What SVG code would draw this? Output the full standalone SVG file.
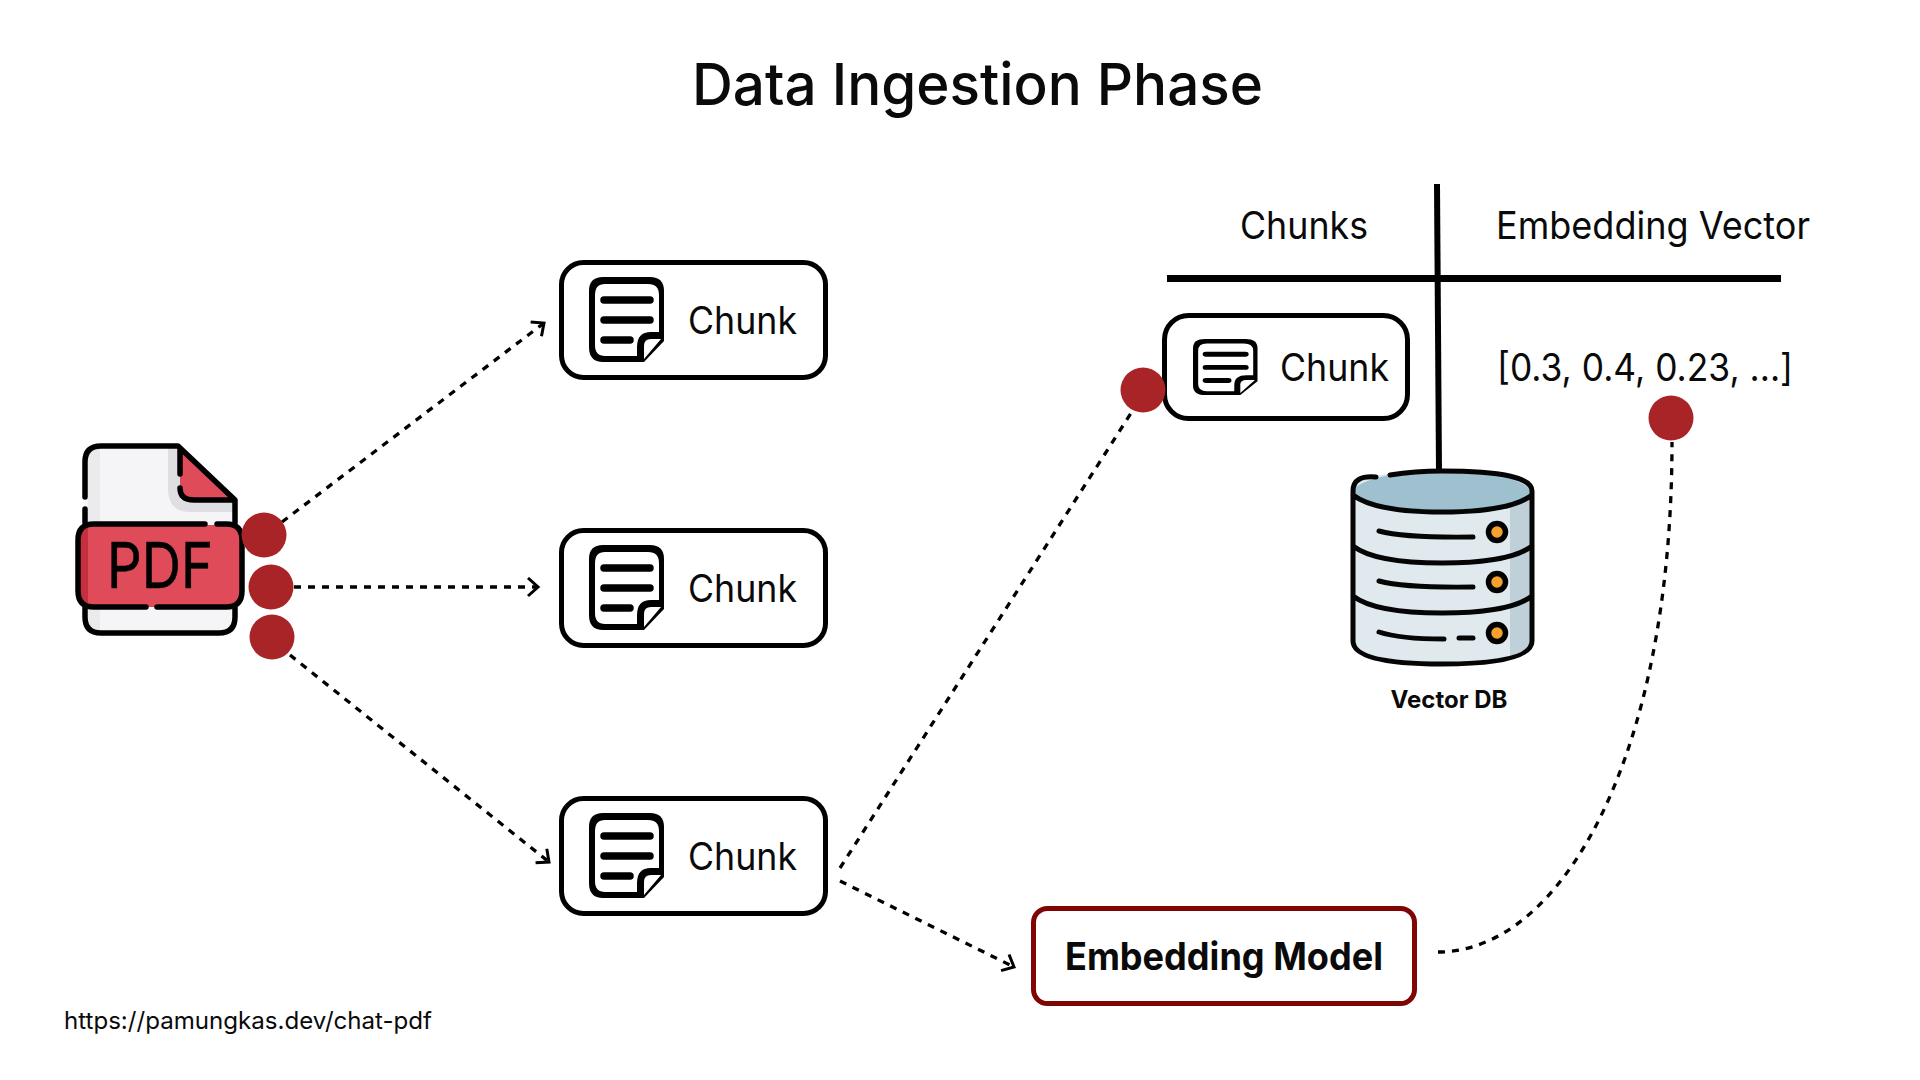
<svg xmlns="http://www.w3.org/2000/svg" width="1920" height="1080" viewBox="0 0 1920 1080">
<style>
text{font-family:Inter,"Liberation Sans",sans-serif;fill:#0a0a0a}
.lbl{font-size:38px}
.box{fill:#fff;stroke:#000;stroke-width:5}
.dash{fill:none;stroke:#000;stroke-width:3.300;stroke-dasharray:7 7}
.dot{fill:#a92427}
.ol{fill:none;stroke:#000;stroke-width:5.500;stroke-linecap:round;stroke-linejoin:round}
.dbl{fill:none;stroke:#050505;stroke-width:5;stroke-linecap:round}
</style>
<defs>
<marker id="arr" markerUnits="userSpaceOnUse" markerWidth="24" markerHeight="24" refX="15" refY="10" orient="auto">
<path d="M5 1 L15 10 L5 19" fill="none" stroke="#000" stroke-width="3"/>
</marker>
<g id="note">
<path d="M14 0 H61 Q75 0 75 14 V64 L55 85 H14 Q0 85 0 70 V14 Q0 0 14 0Z" fill="#000"/>
<path d="M16 7 H59 Q70 7 70 18 V55 H62 Q48 55 48 70 V79 H16 Q6 79 6 68 V18 Q6 7 16 7Z" fill="#fff"/>
<path d="M62 62 H72 L55 82 V69 Q55 62 62 62Z" fill="#fff"/>
<path d="M15 23 H61 M15 43 H61 M15 63 H41" fill="none" stroke="#000" stroke-width="7.500" stroke-linecap="round"/>
</g>
</defs>
<rect width="1920" height="1080" fill="#fff"/>
<text id="title" x="692" y="105" font-size="58" font-weight="500" textLength="571" lengthAdjust="spacingAndGlyphs">Data Ingestion Phase</text>
<g id="connectors">
<path class="dash" marker-end="url(#arr)" d="M282 522 L544 323"/>
<path class="dash" marker-end="url(#arr)" d="M294 587 L538 587"/>
<path class="dash" marker-end="url(#arr)" d="M290 655 L549 862"/>
<path class="dash" d="M840 868 L1133 410"/>
<path class="dash" marker-end="url(#arr)" d="M840 881 L1014 967"/>
<path class="dash" d="M1438 952 C1560 952 1672 760 1672 442"/>
</g>
<g id="table">
<path d="M1437 184 L1439 472" stroke="#000" stroke-width="6" fill="none"/>
<path d="M1167 278.500 H1781" stroke="#000" stroke-width="7" fill="none"/>
<text class="lbl" x="1240" y="239" textLength="128" lengthAdjust="spacingAndGlyphs">Chunks</text>
<text class="lbl" x="1496" y="239" textLength="314" lengthAdjust="spacingAndGlyphs">Embedding Vector</text>
<text class="lbl" x="1497" y="381" textLength="296" lengthAdjust="spacingAndGlyphs">[0.3, 0.4, 0.23, ...]</text>
</g>
<g id="pdf">
<path d="M101 446 H178 L235 500 V617 Q235 633 219 633 H101 Q85 633 85 617 V462 Q85 446 101 446Z" fill="#f5f4f6"/>
<path d="M100 448 H88 V630 H100Z" fill="#ebebee"/>
<path d="M168 448 H180 V500 H235 V512 H190 Q168 512 168 488Z" fill="#dfdfe3"/>
<path d="M180 448 L233 500 H194 Q180 500 180 486Z" fill="#e04b5a"/>
<rect x="77" y="525" width="165" height="82" rx="16" fill="#e04b5a"/>
<path d="M88 525 Q80 527 78 540 V592 Q80 605 88 607 Z" fill="#c5303f"/>
<path class="ol" d="M85 497 V462 Q85 446 101 446 H178 L235 500 V523 M180 450 V474 M180 488 Q180 500 194 500 H233 M85 509 V523 M85 608 V617 Q85 633 101 633 H219 Q235 633 235 617 V608"/>
<path class="ol" d="M217 524 H226 Q242 524 242 540 V591 Q242 607 226 607 H157 M146 607 H94 Q78 607 78 591 V540 Q78 524 94 524 H205"/>
<text x="107" y="588" font-size="63" textLength="106" lengthAdjust="spacingAndGlyphs" style="fill:#000" stroke="#000" stroke-width="0.6">PDF</text>
<circle class="dot" cx="264" cy="535" r="22.500"/>
<circle class="dot" cx="271" cy="587" r="22.500"/>
<circle class="dot" cx="272" cy="637" r="22.500"/>
</g>
<g id="chunk1"><rect class="box" x="561.500" y="262.500" width="264" height="115" rx="22"/><use href="#note" transform="translate(589 277)"/><text class="lbl" x="688" y="334" textLength="109" lengthAdjust="spacingAndGlyphs">Chunk</text></g>
<g id="chunk2"><rect class="box" x="561.500" y="530.500" width="264" height="115" rx="22"/><use href="#note" transform="translate(589 545)"/><text class="lbl" x="688" y="602" textLength="109" lengthAdjust="spacingAndGlyphs">Chunk</text></g>
<g id="chunk3"><rect class="box" x="561.500" y="798.500" width="264" height="115" rx="22"/><use href="#note" transform="translate(589 813)"/><text class="lbl" x="688" y="870" textLength="109" lengthAdjust="spacingAndGlyphs">Chunk</text></g>
<g id="chunk4"><rect class="box" x="1164.500" y="315.500" width="243" height="103" rx="24"/><use href="#note" transform="translate(1193 339) scale(.86 .66)"/><text class="lbl" x="1280" y="381" textLength="109" lengthAdjust="spacingAndGlyphs">Chunk</text>
<circle class="dot" cx="1143" cy="390" r="22.500"/></g>
<circle id="vector-dot" class="dot" cx="1671" cy="418" r="22.500"/>
<g id="vector-db">
<path d="M1353 491 Q1353 471 1442 471 Q1532 471 1532 491 V641 Q1532 664 1442 664 Q1353 664 1353 641Z" fill="#dfe9ee"/>
<path d="M1510 500 H1532 V641 Q1532 649 1510 656Z" fill="#c0d0d9"/>
<ellipse cx="1442" cy="492" rx="88" ry="21" fill="#9fc0ce"/>
<path class="dbl" stroke-width="6" d="M1353 491 V641 Q1353 664 1442 664 Q1532 664 1532 641 V491 M1353 491 Q1353 475 1376 477 M1390 475 Q1415 471 1442 471 Q1532 471 1532 491 M1353 495 Q1375 512 1442 512 Q1510 512 1532 495 M1353 546 Q1375 563 1442 563 Q1510 563 1532 546 M1353 596 Q1375 613 1442 613 Q1510 613 1532 596"/>
<path class="dbl" d="M1379 531 Q1405 538 1473 537 M1379 581 Q1405 588 1473 587 M1379 632 Q1400 639 1444 639 M1459 638 H1473"/>
<g fill="#f5a02f" stroke="#000" stroke-width="5.500"><circle cx="1497" cy="532" r="8.500"/><circle cx="1497" cy="582" r="8.500"/><circle cx="1497" cy="633" r="8.500"/></g>
<text x="1449" y="708" text-anchor="middle" font-size="24" font-weight="700">Vector DB</text>
</g>
<g id="embedding-model">
<rect x="1033.500" y="908.500" width="381" height="95" rx="14" fill="#fff" stroke="#800505" stroke-width="5"/>
<text x="1065" y="970" font-size="38" font-weight="700" textLength="318" lengthAdjust="spacingAndGlyphs">Embedding Model</text>
</g>
<text id="source" x="64" y="1029" font-size="24" textLength="368" lengthAdjust="spacingAndGlyphs">https://pamungkas.dev/chat-pdf</text>
</svg>
